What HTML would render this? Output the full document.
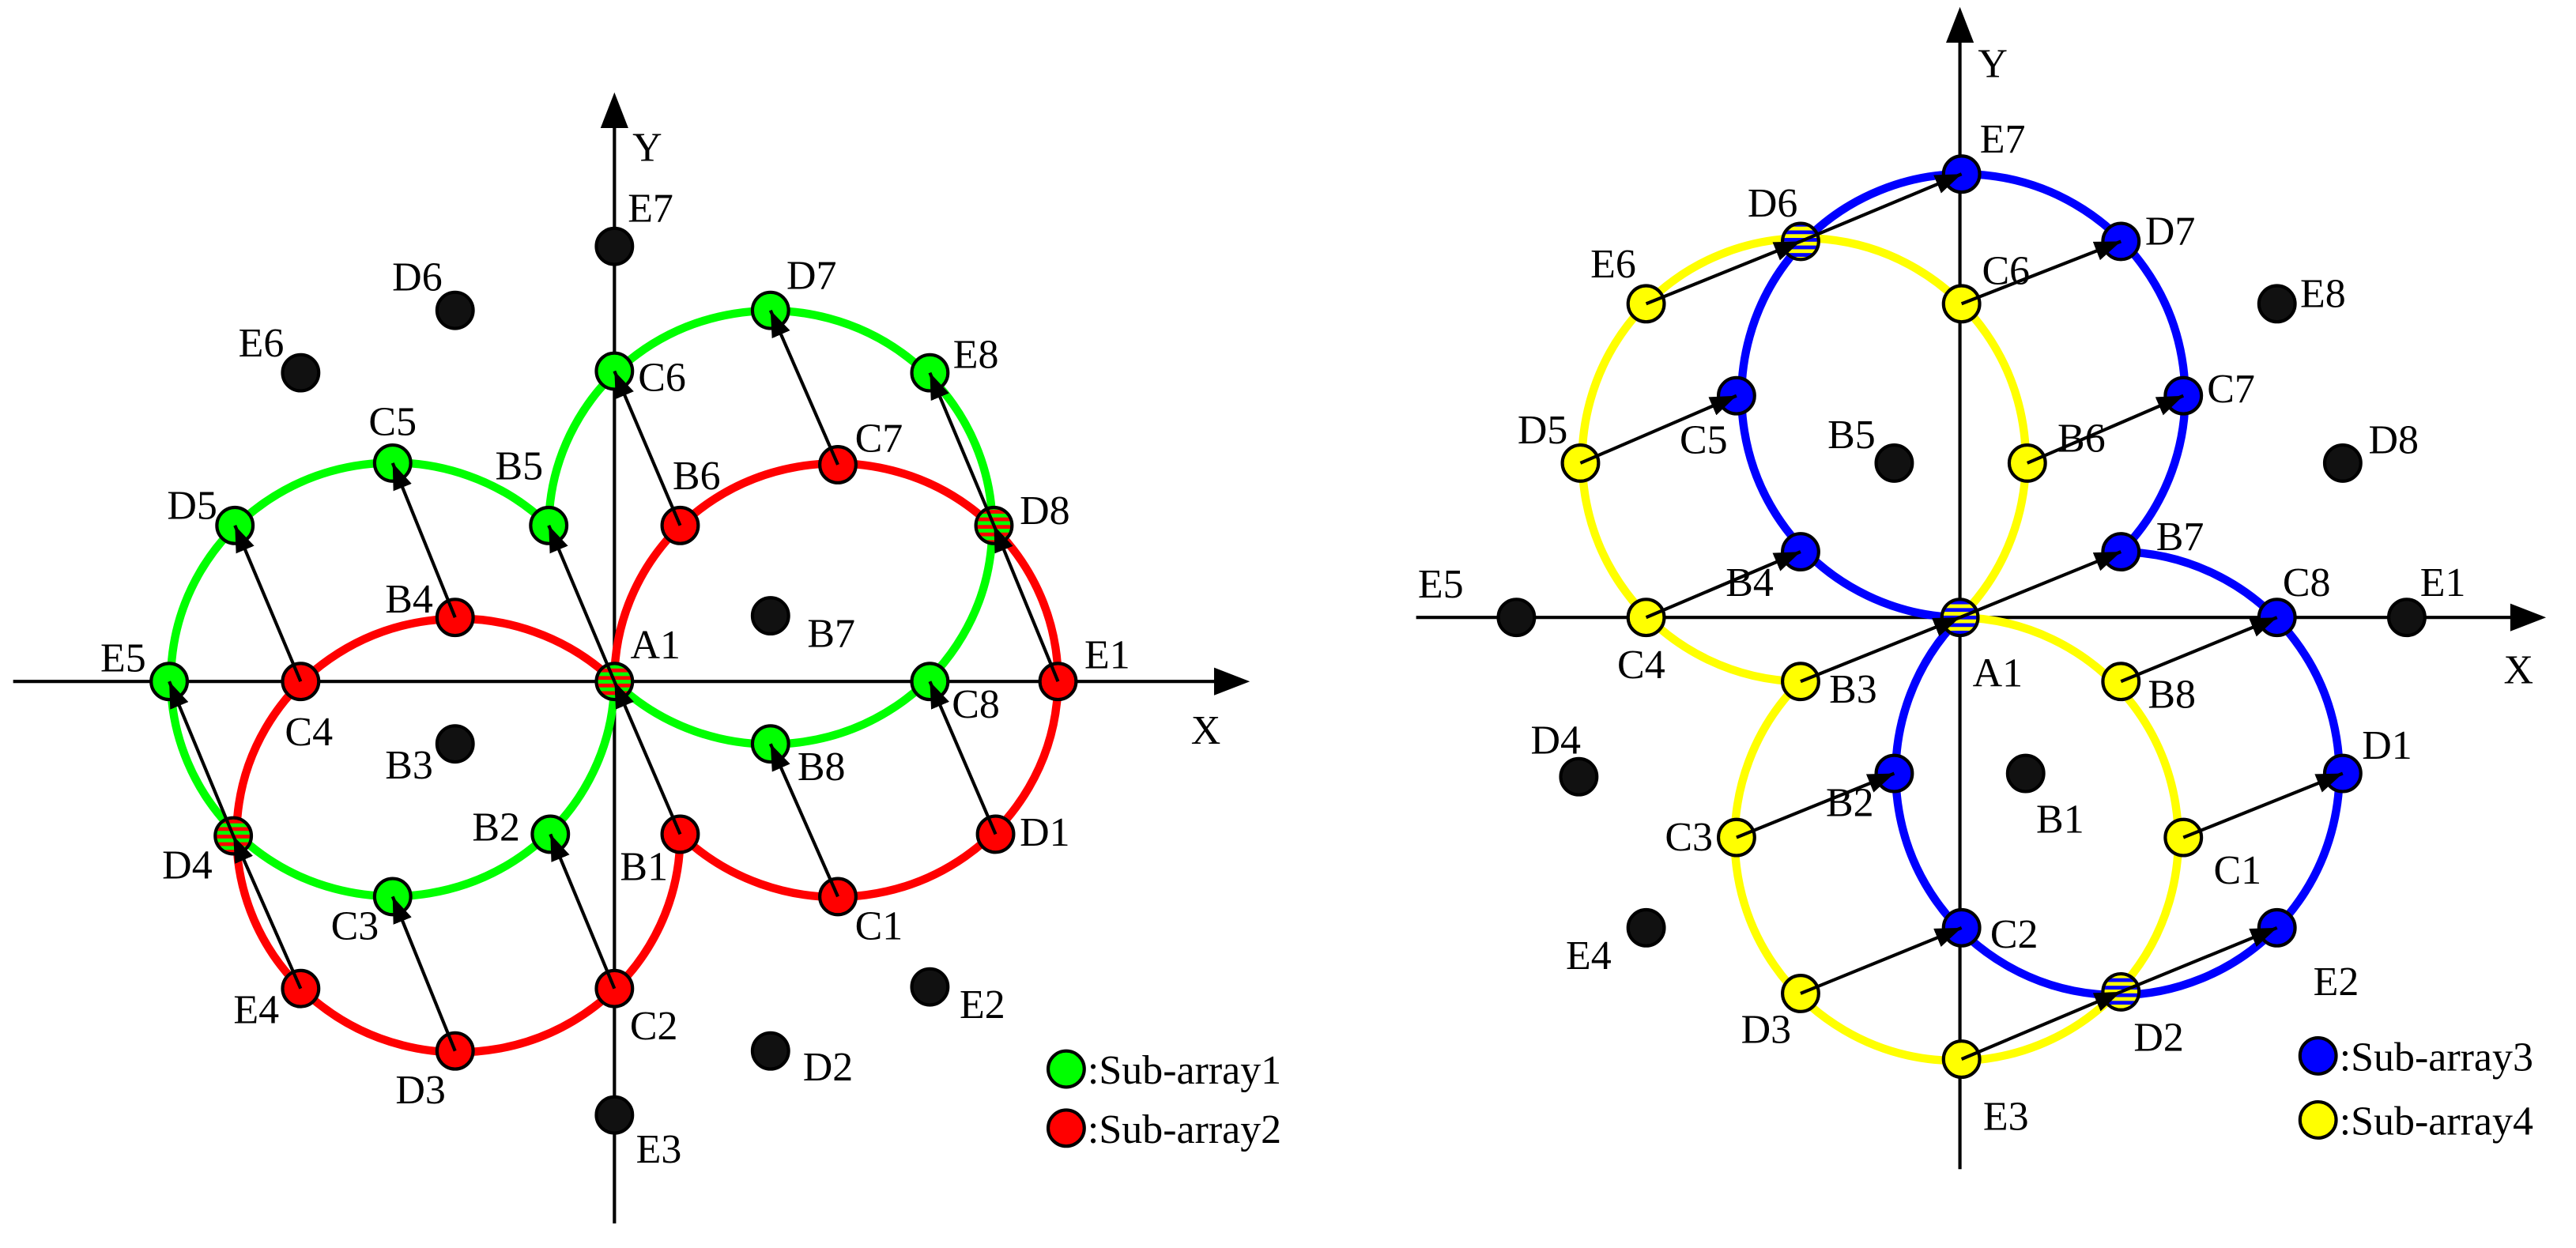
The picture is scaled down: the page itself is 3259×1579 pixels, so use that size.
<!DOCTYPE html>
<html><head><meta charset="utf-8"><style>html,body{margin:0;padding:0;background:#fff}svg{display:block}</style></head>
<body>
<svg width="3259" height="1579" viewBox="0 0 1568 760" preserveAspectRatio="none" xmlns="http://www.w3.org/2000/svg" font-family="'Liberation Serif', serif" font-size="25">
<defs>
<marker id="ah" markerUnits="userSpaceOnUse" markerWidth="18" markerHeight="14" refX="16" refY="6" orient="auto"><path d="M0,0 L16,6 L0,12 z" fill="#000"/></marker>
<pattern id="rg" width="10" height="4.6" patternUnits="userSpaceOnUse"><rect width="10" height="2.3" fill="#00ff00"/><rect y="2.3" width="10" height="2.3" fill="#ff0000"/></pattern>
<pattern id="by" width="10" height="4.6" patternUnits="userSpaceOnUse"><rect width="10" height="2.3" fill="#ffff00"/><rect y="2.3" width="10" height="2.3" fill="#0000ff"/></pattern>
</defs>
<rect width="1568" height="760" fill="#fff"/>
<g stroke="#000" stroke-width="2" fill="none">
<line x1="8" y1="415" x2="748" y2="415"/><path d="M758,415 L740,408 L740,422 z" fill="#000"/>
<line x1="374" y1="745" x2="374" y2="70"/><path d="M374,59 L367,77 L381,77 z" fill="#000"/>
<line x1="862" y1="376" x2="1537" y2="376"/><path d="M1547,376 L1529,369 L1529,383 z" fill="#000"/>
<line x1="1193" y1="712" x2="1193" y2="18"/><path d="M1193,7 L1186,25 L1200,25 z" fill="#000"/>
</g>
<g fill="none" stroke-width="5">
<path d="M374,415 A135 132 0 1 1 334,320" stroke="#00ff00"/>
<path d="M334,320 A135 132 0 1 1 374,415" stroke="#00ff00"/>
<path d="M374,415 A135 132 0 1 1 414,508" stroke="#ff0000"/>
<path d="M414,508 A135 132 0 1 1 374,415" stroke="#ff0000"/>
<path d="M1096,415 A135 135 0 1 1 1193,376" stroke="#ffff00"/>
<path d="M1193,376 A135 135 0 1 1 1096,415" stroke="#ffff00"/>
<path d="M1193,376 A135 135 0 1 1 1291,336" stroke="#0000ff"/>
<path d="M1291,336 A135 135 0 1 1 1193,376" stroke="#0000ff"/>
</g>
<g stroke="#000" stroke-width="2" stroke-linejoin="round">
<!-- left nodes green -->
<g fill="#00ff00">
<circle cx="374" cy="226" r="11"/><circle cx="469" cy="189" r="11"/><circle cx="566" cy="227" r="11"/>
<circle cx="239" cy="282" r="11"/><circle cx="334" cy="320" r="11"/><circle cx="143" cy="320" r="11"/>
<circle cx="103" cy="415" r="11"/><circle cx="566" cy="415" r="11"/><circle cx="469" cy="453" r="11"/>
<circle cx="335" cy="508" r="11"/><circle cx="239" cy="546" r="11"/>
</g>
<g fill="#ff0000">
<circle cx="510" cy="283" r="11"/><circle cx="414" cy="320" r="11"/><circle cx="277" cy="376" r="11"/>
<circle cx="183" cy="415" r="11"/><circle cx="644" cy="415" r="11"/><circle cx="414" cy="508" r="11"/>
<circle cx="606" cy="508" r="11"/><circle cx="510" cy="546" r="11"/><circle cx="183" cy="602" r="11"/>
<circle cx="374" cy="602" r="11"/><circle cx="277" cy="640" r="11"/>
</g>
<g fill="url(#rg)">
<circle cx="374" cy="415" r="11"/><circle cx="605" cy="320" r="11"/><circle cx="142" cy="509" r="11"/>
</g>
<g fill="#111">
<circle cx="374" cy="150" r="11"/><circle cx="277" cy="189" r="11"/><circle cx="183" cy="227" r="11"/>
<circle cx="469" cy="375" r="11"/><circle cx="277" cy="453" r="11"/><circle cx="566" cy="601" r="11"/>
<circle cx="469" cy="640" r="11"/><circle cx="374" cy="679" r="11"/>
</g>
<!-- right -->
<g fill="#0000ff">
<circle cx="1194" cy="106" r="11"/><circle cx="1291" cy="147" r="11"/><circle cx="1057" cy="241" r="11"/>
<circle cx="1329" cy="241" r="11"/><circle cx="1096" cy="336" r="11"/><circle cx="1291" cy="336" r="11"/>
<circle cx="1386" cy="376" r="11"/><circle cx="1153" cy="471" r="11"/><circle cx="1426" cy="471" r="11"/>
<circle cx="1194" cy="565" r="11"/><circle cx="1386" cy="565" r="11"/>
</g>
<g fill="#ffff00">
<circle cx="1002" cy="185" r="11"/><circle cx="1194" cy="185" r="11"/><circle cx="962" cy="282" r="11"/>
<circle cx="1234" cy="282" r="11"/><circle cx="1002" cy="376" r="11"/><circle cx="1096" cy="415" r="11"/>
<circle cx="1291" cy="415" r="11"/><circle cx="1057" cy="510" r="11"/><circle cx="1329" cy="510" r="11"/>
<circle cx="1096" cy="605" r="11"/><circle cx="1194" cy="645" r="11"/>
</g>
<g fill="url(#by)">
<circle cx="1193" cy="376" r="11"/><circle cx="1096" cy="147" r="11"/><circle cx="1291" cy="604" r="11"/>
</g>
<g fill="#111">
<circle cx="1386" cy="185" r="11"/><circle cx="1153" cy="282" r="11"/><circle cx="1426" cy="282" r="11"/>
<circle cx="923" cy="376" r="11"/><circle cx="1465" cy="376" r="11"/><circle cx="961" cy="473" r="11"/>
<circle cx="1233" cy="471" r="11"/><circle cx="1002" cy="565" r="11"/>
</g>
<circle cx="649" cy="651" r="11" fill="#00ff00"/><circle cx="649" cy="687" r="11" fill="#ff0000"/>
<circle cx="1411" cy="643" r="11" fill="#0000ff"/><circle cx="1411" cy="682" r="11" fill="#ffff00"/>
</g>
<g stroke="#000" stroke-width="2" marker-end="url(#ah)">
<line x1="183" y1="415" x2="143" y2="320"/>
<line x1="277" y1="376" x2="239" y2="282"/>
<line x1="374" y1="415" x2="334" y2="320"/>
<line x1="414" y1="320" x2="374" y2="226"/>
<line x1="510" y1="283" x2="469" y2="189"/>
<line x1="605" y1="320" x2="566" y2="227"/>
<line x1="644" y1="415" x2="605" y2="320"/>
<line x1="606" y1="508" x2="566" y2="415"/>
<line x1="510" y1="546" x2="469" y2="453"/>
<line x1="414" y1="508" x2="374" y2="415"/>
<line x1="374" y1="602" x2="335" y2="508"/>
<line x1="277" y1="640" x2="239" y2="546"/>
<line x1="183" y1="602" x2="142" y2="509"/>
<line x1="142" y1="509" x2="103" y2="415"/>
<line x1="1002" y1="185" x2="1096" y2="147"/>
<line x1="1096" y1="147" x2="1194" y2="106"/>
<line x1="1194" y1="185" x2="1291" y2="147"/>
<line x1="962" y1="282" x2="1057" y2="241"/>
<line x1="1234" y1="282" x2="1329" y2="241"/>
<line x1="1002" y1="376" x2="1096" y2="336"/>
<line x1="1193" y1="376" x2="1291" y2="336"/>
<line x1="1096" y1="415" x2="1193" y2="376"/>
<line x1="1291" y1="415" x2="1386" y2="376"/>
<line x1="1057" y1="510" x2="1153" y2="471"/>
<line x1="1329" y1="510" x2="1426" y2="471"/>
<line x1="1096" y1="605" x2="1194" y2="565"/>
<line x1="1194" y1="645" x2="1291" y2="604"/>
<line x1="1291" y1="604" x2="1386" y2="565"/>
</g>
<g text-anchor="middle" fill="#000">
<text x="394" y="98">Y</text><text x="396" y="135">E7</text><text x="254" y="177">D6</text><text x="159" y="217">E6</text>
<text x="494" y="176">D7</text><text x="403" y="238">C6</text><text x="594" y="224">E8</text><text x="239" y="265">C5</text>
<text x="535" y="275">C7</text><text x="316" y="292">B5</text><text x="424" y="298">B6</text><text x="117" y="316">D5</text>
<text x="636" y="319">D8</text><text x="249" y="373">B4</text><text x="506" y="394">B7</text><text x="399" y="401">A1</text>
<text x="75" y="409">E5</text><text x="674" y="407">E1</text><text x="188" y="454">C4</text><text x="594" y="437">C8</text>
<text x="734" y="453">X</text><text x="249" y="474">B3</text><text x="500" y="475">B8</text><text x="302" y="512">B2</text>
<text x="636" y="515">D1</text><text x="392" y="536">B1</text><text x="114" y="535">D4</text><text x="216" y="572">C3</text>
<text x="535" y="572">C1</text><text x="156" y="623">E4</text><text x="398" y="633">C2</text><text x="598" y="620">E2</text>
<text x="256" y="672">D3</text><text x="504" y="658">D2</text><text x="401" y="708">E3</text>
<text x="1213" y="47">Y</text><text x="1219" y="93">E7</text><text x="1079" y="132">D6</text><text x="982" y="169">E6</text>
<text x="1221" y="173">C6</text><text x="1321" y="149">D7</text><text x="1414" y="187">E8</text><text x="1358" y="245">C7</text>
<text x="1037" y="276">C5</text><text x="939" y="270">D5</text><text x="1127" y="273">B5</text><text x="1267" y="275">B6</text>
<text x="1457" y="276">D8</text><text x="1327" y="335">B7</text><text x="1065" y="363">B4</text><text x="1404" y="363">C8</text>
<text x="877" y="364">E5</text><text x="1487" y="363">E1</text><text x="999" y="413">C4</text><text x="1216" y="418">A1</text>
<text x="1533" y="416">X</text><text x="1128" y="428">B3</text><text x="1322" y="431">B8</text><text x="947" y="459">D4</text>
<text x="1453" y="462">D1</text><text x="1126" y="497">B2</text><text x="1254" y="507">B1</text><text x="1028" y="518">C3</text>
<text x="1362" y="538">C1</text><text x="1226" y="577">C2</text><text x="967" y="590">E4</text><text x="1422" y="606">E2</text>
<text x="1075" y="635">D3</text><text x="1314" y="640">D2</text><text x="1221" y="688">E3</text>
</g>
<g fill="#000">
<text x="662" y="660">:Sub-array1</text><text x="662" y="696">:Sub-array2</text>
<text x="1424" y="652">:Sub-array3</text><text x="1424" y="691">:Sub-array4</text>
</g>
</svg>
</body></html>
